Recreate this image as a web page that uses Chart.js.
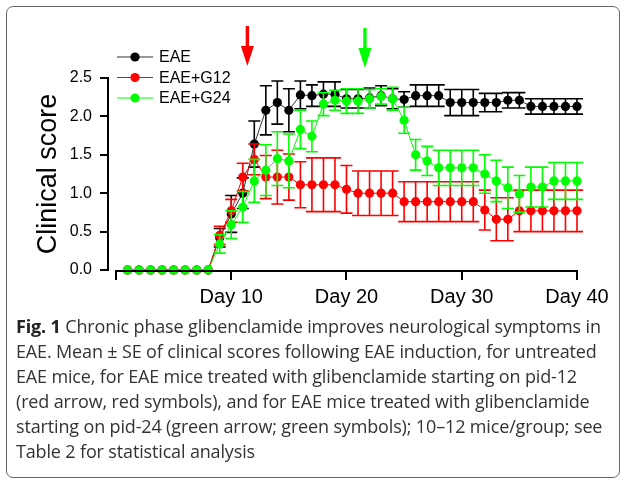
<!DOCTYPE html>
<html lang="en">
<head>
<meta charset="UTF-8">
<title>EAE clinical score</title>
<script src="https://cdn.jsdelivr.net/npm/chart.js"></script>
<style>
  html, body { margin: 0; padding: 0; background: #fff; }
  body { width: 627px; height: 485px; position: relative; overflow: hidden; }
  .frame {
    position: absolute; left: 6px; top: 6px; width: 612px; height: 470px;
    border: 1px solid #666; border-radius: 7px;
  }
  #chartBox { position: absolute; left: 0; top: 0; width: 627px; height: 320px; }
  .caption {
    position: absolute; left: 16px; top: 314px; width: 610px;
    font-family: "Open Sans", sans-serif; font-size: 18px; line-height: 25px;
    color: #333; white-space: nowrap; letter-spacing: -0.15px;
  }
  .caption b { color: #222; }
</style>
</head>
<body>
<div class="frame"></div>
<div id="chartBox"><canvas id="scoreChart" width="627" height="320"></canvas></div>
<div class="caption"><b>Fig. 1</b> Chronic phase glibenclamide improves neurological symptoms in<br>EAE. Mean ± SE of clinical scores following EAE induction, for untreated<br>EAE mice, for EAE mice treated with glibenclamide starting on pid-12<br>(red arrow, red symbols), and for EAE mice treated with glibenclamide<br>starting on pid-24 (green arrow; green symbols); 10–12 mice/group; see<br>Table 2 for statistical analysis</div>
<script>
// days post induction
const days = [1,2,3,4,5,6,7,8,9,10,11,12,13,14,15,16,17,18,19,20,
              21,22,23,24,25,26,27,28,29,30,31,32,33,34,35,36,37,38,39,40];

const eae = [0,0,0,0,0,0,0,0,0.42,0.73,1.00,1.64,2.08,2.18,2.08,2.28,2.27,2.29,2.29,2.23,
             2.23,2.24,2.27,2.23,2.22,2.27,2.27,2.27,2.18,2.18,2.18,2.18,2.18,2.21,2.21,2.13,2.13,2.13,2.13,2.13];
const eaeSE = [0,0,0,0,0,0,0,0,0.12,0.24,0.2,0.3,0.32,0.28,0.28,0.18,0.14,0.16,0.16,0.12,
               0.12,0.13,0.13,0.13,0.1,0.14,0.14,0.14,0.17,0.17,0.17,0.12,0.12,0.1,0.1,0.1,0.1,0.1,0.1,0.1];

const g12 = [0,0,0,0,0,0,0,0,0.45,0.77,1.21,1.44,1.21,1.21,1.21,1.11,1.11,1.11,1.11,1.05,
             1.0,1.0,1.0,1.0,0.89,0.89,0.89,0.89,0.89,0.89,0.89,0.78,0.66,0.66,0.77,0.77,0.77,0.77,0.77,0.77];
const g12SE = [0,0,0,0,0,0,0,0,0.12,0.15,0.18,0.2,0.28,0.35,0.3,0.3,0.35,0.35,0.35,0.31,
               0.29,0.29,0.29,0.29,0.26,0.26,0.26,0.26,0.26,0.26,0.26,0.26,0.28,0.28,0.27,0.27,0.27,0.27,0.27,0.27];

const g24 = [0,0,0,0,0,0,0,0,0.34,0.59,0.82,1.16,1.30,1.45,1.42,1.83,1.74,2.16,2.21,2.20,
             2.20,2.23,2.26,2.23,1.95,1.50,1.42,1.33,1.33,1.33,1.33,1.25,1.16,1.07,0.99,1.08,1.08,1.16,1.16,1.16];
const g24SE = [0,0,0,0,0,0,0,0,0.12,0.18,0.2,0.28,0.33,0.35,0.35,0.25,0.2,0.15,0.13,0.16,
               0.16,0.12,0.1,0.15,0.17,0.2,0.19,0.23,0.23,0.23,0.23,0.25,0.27,0.27,0.24,0.26,0.26,0.24,0.24,0.24];

const seriesNames = ['EAE', 'EAE+G12', 'EAE+G24'];
const yTicks = [0, 0.5, 1.0, 1.5, 2.0, 2.5];
const xTickDays = [10, 20, 30, 40];
const redArrowDay = 11.4;
const greenArrowDay = 21.6;

const font = 'Liberation Sans, Arial, sans-serif';

function pts(vals) {
  return days.map((d, i) => ({ x: d, y: vals[i] }));
}

function makeSet(label, vals, se, color, lineColor, order) {
  return {
    label: label,
    data: pts(vals),
    se: se,
    borderColor: lineColor,
    backgroundColor: color,
    pointBackgroundColor: color,
    pointBorderWidth: 0,
    pointRadius: 4.6,
    borderWidth: 1,
    tension: 0,
    clip: false,
    order: order
  };
}

// error bars, drawn just before each dataset so its dots sit on top
const errorBars = {
  id: 'errorBars',
  beforeDatasetDraw(chart, args) {
    const ds = chart.data.datasets[args.index];
    const xs = chart.scales.x, ys = chart.scales.y;
    const ctx = chart.ctx;
    ctx.save();
    ctx.strokeStyle = ds.backgroundColor;
    ctx.lineWidth = 1.6;
    ds.data.forEach((p, i) => {
      const e = ds.se[i];
      if (!e) return;
      const px = xs.getPixelForValue(p.x);
      const top = ys.getPixelForValue(p.y + e);
      const bot = ys.getPixelForValue(p.y - e);
      ctx.beginPath();
      ctx.moveTo(px, top); ctx.lineTo(px, bot);
      ctx.moveTo(px - 6, top); ctx.lineTo(px + 6, top);
      ctx.moveTo(px - 6, bot); ctx.lineTo(px + 6, bot);
      ctx.stroke();
    });
    ctx.restore();
  }
};

// detached x axis line, legend and the two arrows
const extras = {
  id: 'extras',
  afterDraw(chart) {
    const ctx = chart.ctx;
    const xs = chart.scales.x;
    const bottom = chart.chartArea.bottom;
    ctx.save();
    ctx.strokeStyle = '#000';
    ctx.lineWidth = 2;
    ctx.beginPath();
    ctx.moveTo(xs.getPixelForValue(0) - 1, bottom + 1);
    ctx.lineTo(xs.getPixelForValue(40) + 1, bottom + 1);
    ctx.stroke();

    // legend
    const legendY = [57, 77.5, 98];
    chart.data.datasets.forEach((ds, i) => {
      const y = legendY[i];
      ctx.strokeStyle = ds.borderColor;
      ctx.lineWidth = 1.2;
      ctx.beginPath();
      ctx.moveTo(117, y); ctx.lineTo(153, y);
      ctx.stroke();
      ctx.fillStyle = ds.backgroundColor;
      ctx.beginPath();
      ctx.arc(135, y, 4.6, 0, Math.PI * 2);
      ctx.fill();
      ctx.fillStyle = '#000';
      ctx.font = '16px ' + font;
      ctx.textBaseline = 'middle';
      ctx.textAlign = 'left';
      ctx.fillText(ds.label, 159, y + 1);
    });

    // arrows marking treatment start
    function arrow(day, color, y0, y1) {
      const x = xs.getPixelForValue(day);
      ctx.fillStyle = color;
      ctx.fillRect(x - 1.7, y0, 3.4, y1 - y0 - 18);
      ctx.beginPath();
      ctx.moveTo(x - 6.5, y1 - 20);
      ctx.lineTo(x + 6.5, y1 - 20);
      ctx.lineTo(x, y1);
      ctx.closePath();
      ctx.fill();
    }
    arrow(redArrowDay, '#ff0000', 26, 66);
    arrow(greenArrowDay, '#00ff00', 28, 68);
    ctx.restore();
  }
};

new Chart(document.getElementById('scoreChart'), {
  type: 'line',
  data: {
    datasets: [
      makeSet(seriesNames[0], eae, eaeSE, '#000000', '#333333', 3),
      makeSet(seriesNames[1], g12, g12SE, '#ff0000', '#ff0000', 2),
      makeSet(seriesNames[2], g24, g24SE, '#00ff00', '#00ff00', 1)
    ]
  },
  options: {
    responsive: false,
    animation: false,
    layout: { padding: { left: 0, top: 78, right: 50, bottom: 0 } },
    plugins: { legend: { display: false }, tooltip: { enabled: false } },
    scales: {
      x: {
        type: 'linear',
        min: -0.694,
        max: 40,
        afterFit(s) { s.height = 50; s.paddingLeft = 0; s.paddingRight = 0; },
        afterBuildTicks(s) { s.ticks = [0].concat(xTickDays).map(v => ({ value: v })); },
        ticks: {
          callback: v => v === 0 ? '' : 'Day ' + v,
          font: { family: font, size: 20 },
          color: '#000',
          padding: 5,
          maxRotation: 0
        },
        grid: { drawOnChartArea: false, drawTicks: true, tickLength: 10, color: '#000', lineWidth: 2 },
        border: { display: false }
      },
      y: {
        min: 0,
        max: 2.5,
        afterFit(s) { s.width = 108; },
        afterBuildTicks(s) { s.ticks = yTicks.map(v => ({ value: v })); },
        ticks: {
          callback: v => v.toFixed(1),
          font: { family: font, size: 16 },
          color: '#000',
          padding: 8
        },
        grid: { drawOnChartArea: false, drawTicks: true, tickLength: 8, color: '#000', lineWidth: 2 },
        border: { display: true, color: '#000', width: 2 },
        title: {
          display: true,
          text: 'Clinical score',
          font: { family: font, size: 27 },
          color: '#000',
          padding: { top: 32, bottom: 0 }
        }
      }
    }
  },
  plugins: [errorBars, extras]
});
</script>
</body>
</html>
